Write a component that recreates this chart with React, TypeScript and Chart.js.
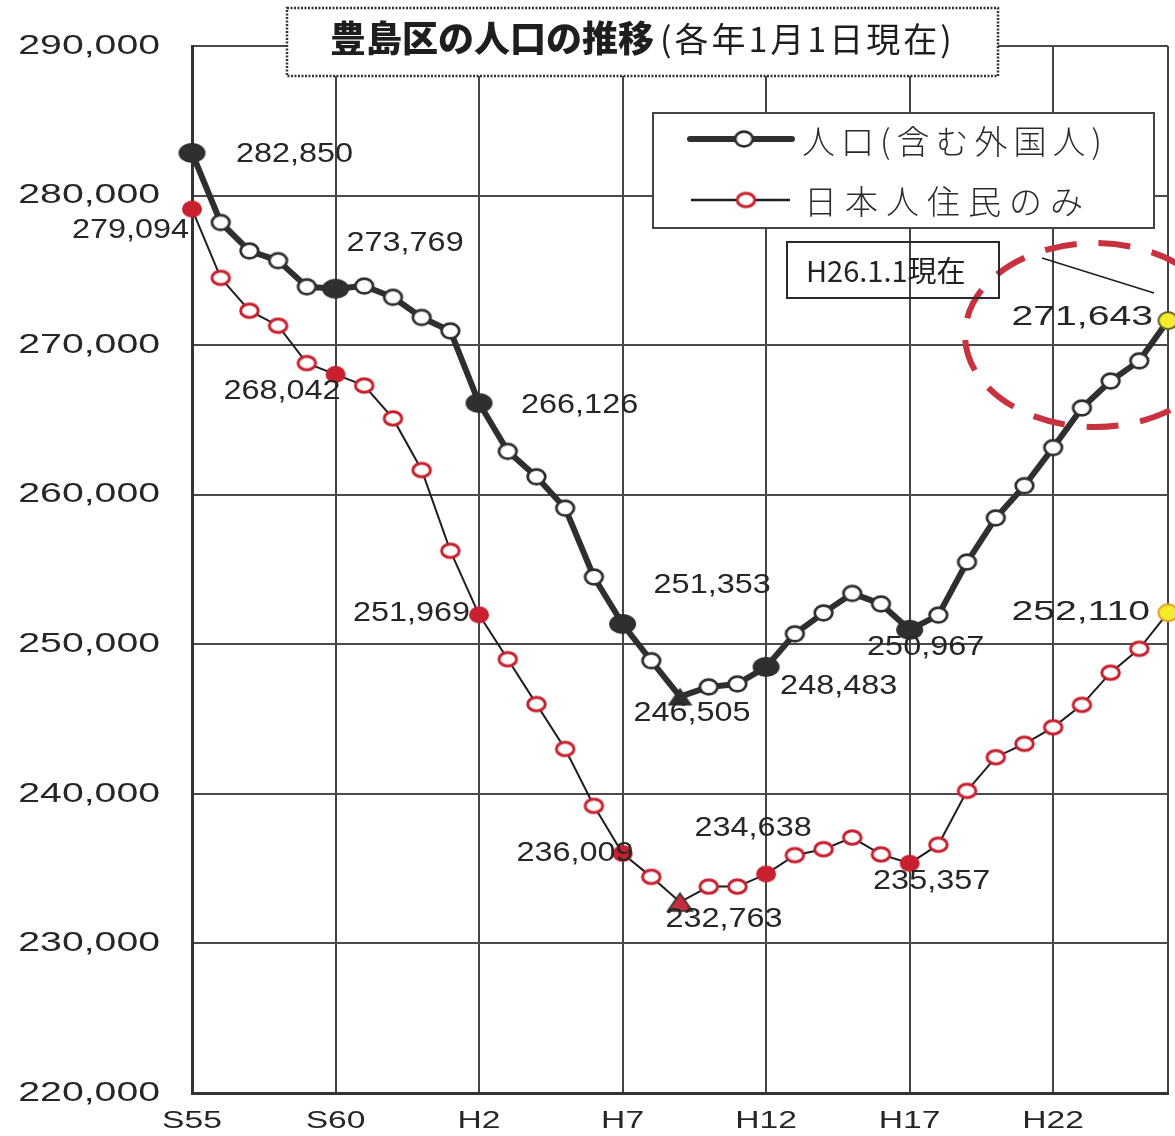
import React, { useEffect, useRef } from 'react';
import { Chart, registerables } from 'chart.js';

Chart.register(...registerables);

// ---- data ----
const categories = [
  'S55', 'S56', 'S57', 'S58', 'S59', 'S60', 'S61', 'S62', 'S63', 'S64',
  'H2', 'H3', 'H4', 'H5', 'H6', 'H7', 'H8', 'H9', 'H10', 'H11',
  'H12', 'H13', 'H14', 'H15', 'H16', 'H17', 'H18', 'H19', 'H20', 'H21',
  'H22', 'H23', 'H24', 'H25', 'H26',
];
const xTickLabels = ['S55', 'S60', 'H2', 'H7', 'H12', 'H17', 'H22'];

const totalPopulation = [
  282850, 278200, 276300, 275650, 273900, 273769, 273950, 273200, 271850, 270950,
  266126, 262900, 261200, 259100, 254500, 251353, 248900, 246505, 247150, 247350,
  248483, 250700, 252100, 253400, 252700, 250967, 251950, 255500, 258450, 260600,
  263150, 265800, 267600, 268950, 271643,
];
const japanesePopulation = [
  279094, 274500, 272300, 271300, 268800, 268042, 267300, 265100, 261650, 256250,
  251969, 249000, 246000, 243000, 239200, 236009, 234450, 232763, 233800, 233800,
  234638, 235900, 236300, 237080, 235950, 235357, 236600, 240200, 242450, 243350,
  244450, 245950, 248100, 249700, 252110,
];
const seriesNames = ['人口(含む外国人)', '日本人住民のみ'];
const yMin = 220000;
const yMax = 290000;
const yStep = 10000;

const keyYearIdx = [0, 5, 10, 15, 20, 25];
const minIdx = 17;
const latestIdx = 34;

const titleBold = '豊島区の人口の推移';
const titleRest = '(各年1月1日現在)';
const noteText = 'H26.1.1現在';

// ---- label placement (style only) ----
type LP = { i: number; dx: number; dy: number; align: 'left' | 'right' | 'center'; sx: number };
const totalLabelPlacement: LP[] = [
  { i: 0, dx: 44, dy: 2, align: 'left', sx: 1.2 },
  { i: 5, dx: 11, dy: -45, align: 'left', sx: 1.2 },
  { i: 10, dx: 42, dy: 2, align: 'left', sx: 1.2 },
  { i: 15, dx: 31, dy: -39, align: 'left', sx: 1.2 },
  { i: 17, dx: 12, dy: 17, align: 'center', sx: 1.2 },
  { i: 20, dx: 14, dy: 20, align: 'left', sx: 1.2 },
  { i: 25, dx: 16, dy: 18, align: 'center', sx: 1.2 },
  { i: 34, dx: -15, dy: -3, align: 'right', sx: 1.45 },
];
const japaneseLabelPlacement: LP[] = [
  { i: 0, dx: -3, dy: 21, align: 'right', sx: 1.2 },
  { i: 5, dx: 5, dy: 17, align: 'right', sx: 1.2 },
  { i: 10, dx: -9, dy: -1, align: 'right', sx: 1.2 },
  { i: 15, dx: 11, dy: 0, align: 'right', sx: 1.2 },
  { i: 17, dx: 44, dy: 17, align: 'center', sx: 1.2 },
  { i: 20, dx: -13, dy: -46, align: 'center', sx: 1.2 },
  { i: 25, dx: 22, dy: 18, align: 'center', sx: 1.2 },
  { i: 34, dx: -18, dy: 0, align: 'right', sx: 1.45 },
];

const DARK = '#2d302d';
const RED = '#c8202e';
const TEXT = '#262626';
const NUM_FONT = '"Liberation Sans", Arial, sans-serif';
const JP_FONT = '"Noto Sans CJK JP", "Noto Sans", sans-serif';

function ellipseImg(rx: number, ry: number, fill: string | null, stroke: string | null, lw: number) {
  const c = document.createElement('canvas');
  c.width = Math.ceil(2 * rx + lw + 2);
  c.height = Math.ceil(2 * ry + lw + 2);
  const g = c.getContext('2d')!;
  g.beginPath();
  g.ellipse(c.width / 2, c.height / 2, rx, ry, 0, 0, Math.PI * 2);
  if (fill) { g.fillStyle = fill; g.fill(); }
  if (stroke) { g.strokeStyle = stroke; g.lineWidth = lw; g.stroke(); }
  return c;
}
function triImg(w: number, h: number, fill: string, stroke: string | null) {
  const c = document.createElement('canvas');
  c.width = w + 4;
  c.height = h + 4;
  const g = c.getContext('2d')!;
  g.beginPath();
  g.moveTo(c.width / 2, 2);
  g.lineTo(c.width - 2, c.height - 2);
  g.lineTo(2, c.height - 2);
  g.closePath();
  g.fillStyle = fill; g.fill();
  if (stroke) { g.strokeStyle = stroke; g.lineWidth = 1.5; g.stroke(); }
  return c;
}

function stretchText(ctx: CanvasRenderingContext2D, text: string, x: number, y: number,
  align: 'left' | 'right' | 'center', sx: number, font: string, color: string) {
  ctx.save();
  ctx.font = font;
  ctx.fillStyle = color;
  ctx.textBaseline = 'middle';
  ctx.textAlign = 'left';
  const w = ctx.measureText(text).width * sx;
  const left = align === 'left' ? x : align === 'right' ? x - w : x - w / 2;
  ctx.translate(left, y);
  ctx.scale(sx, 1);
  ctx.fillText(text, 0, 0);
  ctx.restore();
}

const fmt = (v: number) => v.toLocaleString('en-US');

export default function App() {
  const ref = useRef<HTMLCanvasElement | null>(null);

  useEffect(() => {
    const canvas = ref.current;
    if (!canvas) return;

    const openDark = ellipseImg(8.8, 7.4, '#ffffff', DARK, 2.8);
    const openRed = ellipseImg(8.8, 6.8, '#ffffff', RED, 3);
    const fillDark = ellipseImg(13.5, 10, DARK, null, 0);
    const fillRed = ellipseImg(10, 8.5, RED, null, 0);
    const triDark = triImg(25, 18, DARK, null);
    const triRed = triImg(25, 18, '#c0303a', DARK);
    const yellowDark = ellipseImg(9.5, 8.5, '#f3ec2c', '#5c5c22', 2);
    const yellowRed = ellipseImg(9.5, 8.5, '#f3ec2c', '#e39a22', 2);

    const styleFor = (i: number, open: HTMLCanvasElement, filled: HTMLCanvasElement,
      tri: HTMLCanvasElement, yellow: HTMLCanvasElement) => {
      if (i === latestIdx) return yellow;
      if (i === minIdx) return tri;
      if (keyYearIdx.includes(i)) return filled;
      return open;
    };

    const decorPlugin = {
      id: 'decor',
      beforeDatasetsDraw(chart: any) {
        const ctx: CanvasRenderingContext2D = chart.ctx;
        // red dashed highlight ellipse
        ctx.save();
        ctx.beginPath();
        ctx.ellipse(1095, 335, 130, 92, 0, 0, Math.PI * 2);
        ctx.setLineDash([32, 22]);
        ctx.lineDashOffset = 10;
        ctx.lineWidth = 6;
        ctx.strokeStyle = '#c8323f';
        ctx.stroke();
        ctx.restore();
      },
      afterDatasetsDraw(chart: any) {
        const ctx: CanvasRenderingContext2D = chart.ctx;
        const xs = chart.scales.x;
        const ys = chart.scales.y;

        // y tick labels
        ys.ticks.forEach((t: any) => {
          const y = ys.getPixelForValue(t.value);
          stretchText(ctx, fmt(t.value), 160, y, 'right', 1.4, `28px ${NUM_FONT}`, TEXT);
        });
        // x tick labels
        categories.forEach((c, i) => {
          if (!xTickLabels.includes(c)) return;
          const x = xs.getPixelForValue(i);
          stretchText(ctx, c, x, 1121, 'center', 1.4, `24px ${NUM_FONT}`, TEXT);
        });

        // title box
        ctx.save();
        ctx.fillStyle = '#ffffff';
        ctx.fillRect(287, 8, 711, 68);
        ctx.setLineDash([2, 1.5]);
        ctx.lineWidth = 2.5;
        ctx.strokeStyle = '#333333';
        ctx.strokeRect(287, 8, 711, 68);
        ctx.setLineDash([]);
        ctx.fillStyle = '#1e1e1e';
        ctx.textBaseline = 'middle';
        ctx.textAlign = 'left';
        ctx.font = `900 36px ${JP_FONT}`;
        ctx.fillText(titleBold, 330, 38);
        const bw = ctx.measureText(titleBold).width;
        ctx.font = `400 34px ${JP_FONT}`;
        (ctx as any).letterSpacing = '3px';
        ctx.fillText(titleRest, 330 + bw + 6, 39);
        (ctx as any).letterSpacing = '0px';
        ctx.restore();

        // legend box
        ctx.save();
        ctx.fillStyle = '#ffffff';
        ctx.fillRect(653, 113, 501, 115);
        ctx.lineWidth = 2;
        ctx.strokeStyle = '#444444';
        ctx.strokeRect(653, 113, 501, 115);
        // row 1
        ctx.beginPath();
        ctx.moveTo(690, 139); ctx.lineTo(792, 139);
        ctx.lineWidth = 6; ctx.strokeStyle = DARK; ctx.lineCap = 'round';
        ctx.stroke();
        ctx.drawImage(openDark, 744 - openDark.width / 2, 139 - openDark.height / 2);
        // row 2
        ctx.beginPath();
        ctx.moveTo(691, 200); ctx.lineTo(790, 200);
        ctx.lineWidth = 2.5; ctx.strokeStyle = '#1e1e1e'; ctx.lineCap = 'butt';
        ctx.stroke();
        ctx.drawImage(openRed, 746 - openRed.width / 2, 200 - openRed.height / 2);
        ctx.fillStyle = '#2a2a2a';
        ctx.textBaseline = 'middle';
        ctx.textAlign = 'left';
        ctx.font = `300 33px ${JP_FONT}`;
        (ctx as any).letterSpacing = '6px';
        ctx.fillText(chart.data.datasets[0].label, 802, 141);
        (ctx as any).letterSpacing = '8px';
        ctx.fillText(chart.data.datasets[1].label, 804, 201);
        (ctx as any).letterSpacing = '0px';
        ctx.restore();

        // note box
        ctx.save();
        ctx.lineWidth = 2;
        ctx.strokeStyle = '#2a2a2a';
        ctx.strokeRect(787, 242, 212, 56);
        ctx.fillStyle = '#222222';
        ctx.textBaseline = 'middle';
        ctx.textAlign = 'left';
        ctx.font = `400 29px ${JP_FONT}`;
        ctx.fillText(noteText, 806, 271);
        ctx.beginPath();
        ctx.moveTo(1042, 258);
        ctx.lineTo(1154, 293);
        ctx.lineWidth = 1.5;
        ctx.strokeStyle = '#1e1e1e';
        ctx.stroke();
        ctx.restore();

        // data labels
        const drawLabels = (dsIndex: number, placement: LP[]) => {
          const meta = chart.getDatasetMeta(dsIndex);
          const data = chart.data.datasets[dsIndex].data as number[];
          placement.forEach((p) => {
            const el = meta.data[p.i];
            stretchText(ctx, fmt(data[p.i]), el.x + p.dx, el.y + p.dy, p.align, p.sx,
              `27px ${NUM_FONT}`, TEXT);
          });
        };
        drawLabels(0, totalLabelPlacement);
        drawLabels(1, japaneseLabelPlacement);
      },
    };

    const chart = new Chart(canvas, {
      type: 'line',
      data: {
        labels: categories,
        datasets: [
          {
            label: seriesNames[0],
            data: totalPopulation,
            borderColor: DARK,
            borderWidth: 6,
            borderJoinStyle: 'round',
            tension: 0,
            clip: false as any,
            pointRadius: 1,
            pointBorderWidth: 0,
            pointStyle: (c: any) => styleFor(c.dataIndex, openDark, fillDark, triDark, yellowDark),
          },
          {
            label: seriesNames[1],
            data: japanesePopulation,
            borderColor: '#1e1e1e',
            borderWidth: 2,
            tension: 0,
            clip: false as any,
            pointRadius: 1,
            pointBorderWidth: 0,
            pointStyle: (c: any) => styleFor(c.dataIndex, openRed, fillRed, triRed, yellowRed),
          },
        ],
      } as any,
      options: {
        animation: false,
        responsive: false,
        devicePixelRatio: 1,
        events: [],
        layout: { padding: { top: 46, right: 7, left: 0, bottom: 0 } },
        plugins: {
          legend: { display: false },
          title: { display: false },
          tooltip: { enabled: false },
        },
        scales: {
          x: {
            type: 'category',
            offset: false,
            ticks: { display: false },
            grid: {
              color: (c: any) => (c.index % 5 === 0 || c.index === categories.length - 1 ? '#444444' : 'rgba(0,0,0,0)'),
              lineWidth: 2,
              drawTicks: false,
            },
            border: { color: '#333333', width: 3 },
            afterFit: (s: any) => { s.height = 43; },
          },
          y: {
            type: 'linear',
            min: yMin,
            max: yMax,
            ticks: { display: false, stepSize: yStep },
            grid: { color: '#4a4a4a', lineWidth: 2, drawTicks: false },
            border: { color: '#333333', width: 3 },
            afterFit: (s: any) => { s.width = 192; },
          },
        },
      } as any,
      plugins: [decorPlugin],
    });

    return () => chart.destroy();
  }, []);

  return (
    <div style={{ position: 'absolute', left: 0, top: 0, width: 1175, height: 1136, background: '#ffffff' }}>
      <canvas ref={ref} width={1175} height={1136} style={{ display: 'block' }} />
    </div>
  );
}
